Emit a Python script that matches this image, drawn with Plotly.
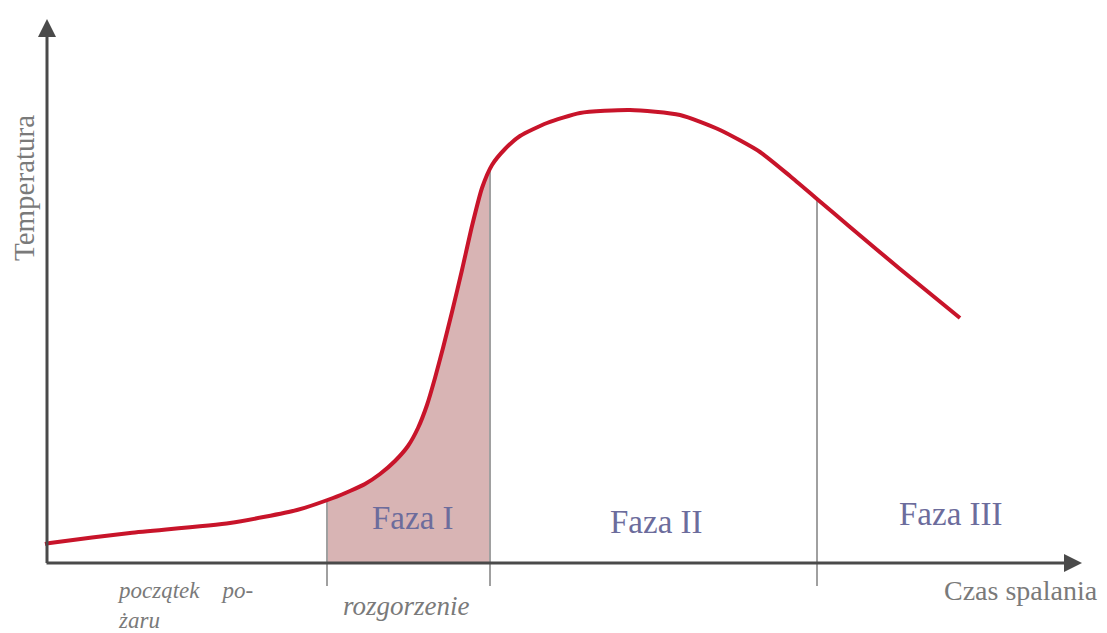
import numpy as np
import plotly.graph_objects as go

# Temperature curve (time units, temperature units)
time = [0.0, 0.5, 8.5, 18.5, 25.2, 28.8, 30.5, 32.0, 33.5, 35.0, 36.3, 37.3, 38.2,
        39.0, 39.8, 40.7, 41.7, 42.7, 43.7, 44.7, 46.0, 47.5, 50.2, 53.5, 58.5,
        63.5, 67.5, 71.5, 74.5, 77.2, 80.5, 85.5, 91.5]
temperature = [3.8, 4.0, 6.0, 8.0, 10.6, 13.0, 14.4, 15.8, 17.8, 20.4, 23.4, 27.0, 31.6,
               37.0, 43.0, 50.2, 58.6, 67.4, 75.0, 79.6, 82.8, 85.4, 88.0, 90.0, 90.6,
               89.6, 86.6, 82.2, 77.4, 72.8, 67.2, 58.8, 49.0]

# Phase boundaries (time)
boundaries = [28.2, 44.5, 77.2]
phase_labels = ["Faza I", "Faza II", "Faza III"]
phase_label_x = [36.8, 61.1, 90.6]
phase_label_y = [9.0, 8.2, 9.8]

x_title = "Czas spalania"
y_title = "Temperatura"
stage_labels = ["początek&nbsp;&nbsp;&nbsp; po-<br>żaru", "rozgorzenie"]

# ranges compensate the 8px page margin
X_MIN, X_MAX = -3.7, 107.0
Y_MIN, Y_MAX = -15.6, 111.0

fig = go.Figure()

# shaded Faza I region under the curve
t_fill = np.linspace(boundaries[0], boundaries[1], 80)
T_fill = np.interp(t_fill, time, temperature)
fig.add_trace(go.Scatter(x=t_fill, y=T_fill, mode="lines", line=dict(width=0),
                         fill="tozeroy", fillcolor="rgb(216,180,180)",
                         hoverinfo="skip", showlegend=False))

# boundary lines
for b in boundaries:
    top = float(np.interp(b, time, temperature))
    fig.add_trace(go.Scatter(x=[b, b], y=[-4.6, top], mode="lines",
                             line=dict(color="#a0a0a0", width=2),
                             hoverinfo="skip", showlegend=False))

# curve
fig.add_trace(go.Scatter(x=time, y=temperature, mode="lines",
                         line=dict(color="#c8142a", width=4, shape="spline", smoothing=0.6),
                         showlegend=False))

annotations = []
# axes with arrows
annotations.append(dict(x=0.2, y=108.8, ax=0.2, ay=-0.3, xref="x", yref="y", axref="x", ayref="y",
                        showarrow=True, arrowhead=2, arrowsize=1.2, arrowwidth=3,
                        arrowcolor="#4a4a4a", text=""))
annotations.append(dict(x=103.7, y=0, ax=0.0, ay=0, xref="x", yref="y", axref="x", ayref="y",
                        showarrow=True, arrowhead=2, arrowsize=1.2, arrowwidth=3,
                        arrowcolor="#4a4a4a", text=""))

serif = "Liberation Serif"
for lab, lx, ly in zip(phase_labels, phase_label_x, phase_label_y):
    annotations.append(dict(x=lx, y=ly, xref="x", yref="y", text=lab, showarrow=False,
                            font=dict(family=serif, size=33, color="#6c6c9c")))

annotations.append(dict(x=97.6, y=-5.4, xref="x", yref="y", text=x_title, showarrow=False,
                        font=dict(family=serif, size=28, color="#7a7a7a")))
annotations.append(dict(x=-2.1, y=75, xref="x", yref="y", text=y_title, showarrow=False,
                        textangle=-90, font=dict(family=serif, size=29, color="#7a7a7a")))
annotations.append(dict(x=7.0, y=-8.5, xref="x", yref="y", text="<i>" + stage_labels[0] + "</i>",
                        showarrow=False, xanchor="left", align="left",
                        font=dict(family=serif, size=23, color="#7a7a7a")))
annotations.append(dict(x=36.1, y=-8.6, xref="x", yref="y", text="<i>" + stage_labels[1] + "</i>",
                        showarrow=False, font=dict(family=serif, size=27, color="#7a7a7a")))

fig.update_layout(
    width=1107, height=633,
    margin=dict(l=0, r=0, t=0, b=0),
    paper_bgcolor="white", plot_bgcolor="white",
    xaxis=dict(range=[X_MIN, X_MAX], visible=False, fixedrange=True),
    yaxis=dict(range=[Y_MIN, Y_MAX], visible=False, fixedrange=True),
    annotations=annotations,
    showlegend=False,
)

fig.write_html("out.html")
